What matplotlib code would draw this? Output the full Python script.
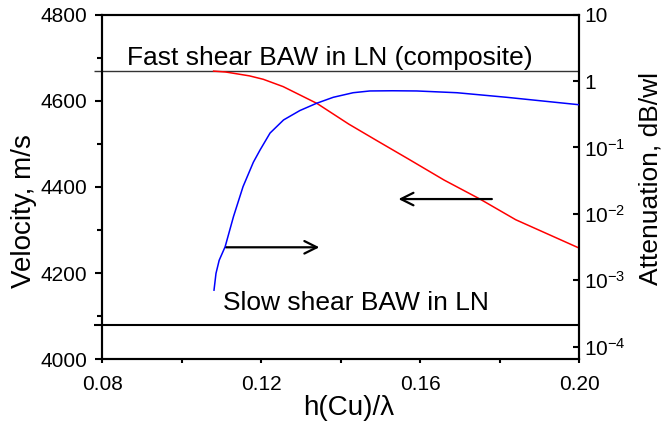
import matplotlib
matplotlib.use("Agg")
import matplotlib.pyplot as plt
from matplotlib.ticker import NullLocator

plt.rcParams['font.family'] = ['Liberation Sans', 'DejaVu Sans']
plt.rcParams['mathtext.fontset'] = 'custom'
plt.rcParams['mathtext.rm'] = 'Liberation Sans'
plt.rcParams['mathtext.it'] = 'Liberation Sans:italic'
plt.rcParams['mathtext.bf'] = 'Liberation Sans:bold'

# ---- data ----
vel_x = [0.108, 0.111, 0.117, 0.1205, 0.1255, 0.134, 0.142, 0.149, 0.157,
         0.166, 0.175, 0.184, 0.200]
vel_y = [4669, 4667, 4658, 4650, 4633, 4594, 4546, 4508, 4465,
         4416, 4372, 4324, 4258]

att_x = [0.1081, 0.1086, 0.1094, 0.1109, 0.1130, 0.1154, 0.1180, 0.1197,
         0.1222, 0.1256, 0.1297, 0.1339, 0.1381, 0.1431, 0.1473, 0.1530,
         0.1591, 0.1692, 0.1817, 0.2000]
att_y = [7.1e-4, 1.27e-3, 2.0e-3, 3.2e-3, 9.1e-3, 0.0257, 0.060, 0.092,
         0.165, 0.26, 0.36, 0.463, 0.570, 0.668, 0.71, 0.715,
         0.71, 0.668, 0.57, 0.44]

fast_level = 4670
slow_level = 4080

x_ticks = [0.08, 0.12, 0.16, 0.20]
x_ticklabels = ['0.08', '0.12', '0.16', '0.20']
x_minor = [0.10, 0.14, 0.18]
v_ticks = [4000, 4200, 4400, 4600, 4800]
v_minor = [4100, 4300, 4500, 4700]
a_ticks = [1e-4, 1e-3, 1e-2, 1e-1, 1, 10]
a_ticklabels = [r'$\mathregular{10^{-4}}$', r'$\mathregular{10^{-3}}$',
                r'$\mathregular{10^{-2}}$', r'$\mathregular{10^{-1}}$', '1', '10']

# arrows (velocity-axis coordinates): (x_start, x_end, level)
arrow_left = (0.178, 0.1545, 4372)
arrow_right = (0.1111, 0.1346, 4260)

fig = plt.figure(figsize=(6.63, 4.32), dpi=100)
ax = fig.add_axes([0.1543, 0.1683, 0.7195, 0.7977])
ax2 = ax.twinx()

# velocity axis
ax.plot(vel_x, vel_y, color='#ff0000', lw=1.1, zorder=3)
ax.hlines(fast_level, 0.078, 0.20, color='#333333', lw=1.0, clip_on=False)
ax.hlines(slow_level, 0.078, 0.20, color='black', lw=1.5, clip_on=False)

ax.set_xlim(0.08, 0.20)
ax.set_ylim(4000, 4800)
ax.set_xticks(x_ticks)
ax.set_xticklabels(x_ticklabels)
ax.set_xticks(x_minor, minor=True)
ax.set_yticks(v_ticks)
ax.set_yticks(v_minor, minor=True)
ax.tick_params(axis='x', which='both', direction='out', length=3, width=1.5,
               labelsize=15, pad=8)
ax.tick_params(axis='y', which='major', direction='out', length=5, width=1.5,
               labelsize=15, pad=6)
ax.tick_params(axis='y', which='minor', direction='out', length=3.5, width=1.5)

ax.set_xlabel('h(Cu)/λ', fontsize=20)
ax.xaxis.set_label_coords(0.517, -0.104)
ax.set_ylabel('Velocity, m/s', fontsize=20)
ax.yaxis.set_label_coords(-0.136, 0.43)

ax.text(0.0861, 4683, 'Fast shear BAW in LN (composite)', fontsize=19,
        va='baseline', ha='left')
ax.text(0.1104, 4115, 'Slow shear BAW in LN', fontsize=19,
        va='baseline', ha='left')

for (xs, xe, lvl) in (arrow_left, arrow_right):
    ax.annotate('', xy=(xe, lvl), xytext=(xs, lvl),
                arrowprops=dict(arrowstyle='->,head_length=0.6,head_width=0.3',
                                lw=1.6, color='black', shrinkA=0, shrinkB=0,
                                mutation_scale=15))

# attenuation axis
ax2.plot(att_x, att_y, color='#0000ff', lw=1.1, zorder=3)
ax2.set_yscale('log')
ax2.set_ylim(10 ** -4.19, 10)
ax2.set_yticks(a_ticks)
ax2.set_yticklabels(a_ticklabels)
ax2.yaxis.set_minor_locator(NullLocator())
ax2.tick_params(axis='y', which='major', direction='in', length=4.5, width=1.5,
                labelsize=15, pad=3.5)
ax2.set_ylabel('Attenuation, dB/wl', fontsize=19)
ax2.yaxis.set_label_coords(1.124, 0.526)

for a in (ax, ax2):
    for s in a.spines.values():
        s.set_linewidth(1.5)

fig.savefig('out.png', dpi=100)
